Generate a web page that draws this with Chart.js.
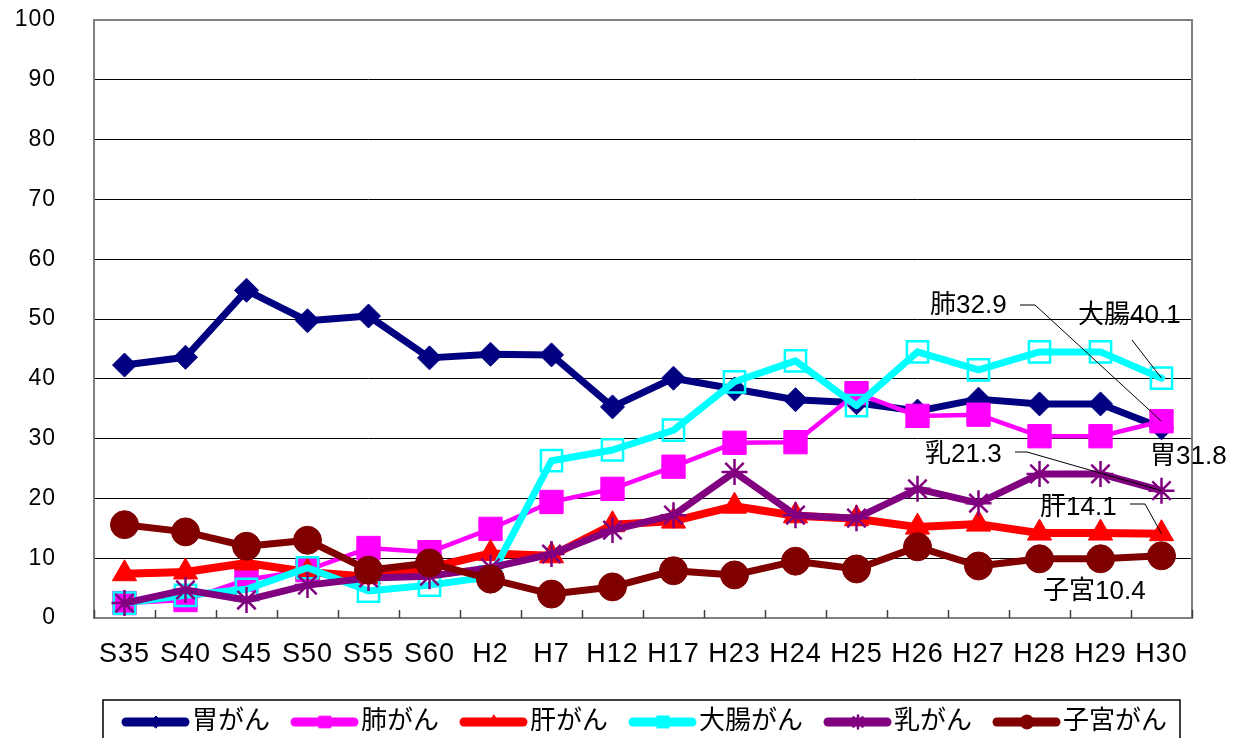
<!DOCTYPE html>
<html>
<head>
<meta charset="utf-8">
<script src="https://cdn.jsdelivr.net/npm/chart.js@4/dist/chart.umd.min.js"></script>
<style>
  html, body { margin: 0; padding: 0; background: #fff; }
</style>
</head>
<body>
<canvas id="chart" width="1239" height="738"></canvas>
<script>
const categories = ['S35','S40','S45','S50','S55','S60','H2','H7','H12','H17','H23','H24','H25','H26','H27','H28','H29','H30'];

const stomach = [42.3, 43.6, 54.8, 49.7, 50.5, 43.5, 44.1, 44.0, 35.3, 40.1, 38.3, 36.5, 36.0, 34.6, 36.6, 35.8, 35.8, 31.8];
const lung    = [2.5, 3.0, 6.4, 8.0, 11.7, 11.0, 14.9, 19.4, 21.6, 25.3, 29.3, 29.4, 37.6, 33.8, 34.0, 30.4, 30.4, 32.9];
const liver   = [7.4, 7.7, 9.2, 7.7, 6.9, 8.4, 10.8, 10.4, 15.6, 16.2, 18.7, 17.1, 16.6, 15.2, 15.7, 14.2, 14.2, 14.1];
const colon   = [2.5, 3.8, 4.8, 8.4, 4.5, 5.5, 6.9, 26.3, 28.1, 31.4, 39.5, 43.0, 35.5, 44.5, 41.5, 44.5, 44.5, 40.1];
const breast  = [2.5, 4.7, 3.0, 5.5, 6.7, 7.0, 8.4, 10.7, 14.7, 17.2, 24.4, 17.2, 16.7, 21.6, 19.2, 24.1, 24.1, 21.3];
const uterus  = [15.6, 14.4, 12.0, 13.0, 8.0, 9.2, 6.5, 4.0, 5.2, 7.9, 7.2, 9.5, 8.2, 11.9, 8.7, 9.9, 9.9, 10.4];

const seriesNames = ['胃がん', '肺がん', '肝がん', '大腸がん', '乳がん', '子宮がん'];
const endNames = ['胃', '肺', '肝', '大腸', '乳', '子宮'];
const yTicks = [0, 10, 20, 30, 40, 50, 60, 70, 80, 90, 100];

const NUM_FONT = '"Liberation Sans", Arial, sans-serif';
const JP_FONT = '"Liberation Sans", "Noto Sans CJK JP", sans-serif';

// wanted plot area (px)
const PLOT = { top: 20, bottom: 618, left: 94, right: 1192 };

function makeSet(i, data, color, style, radius, width, fill, bw) {
    return {
        label: seriesNames[i],
        data: data,
        borderColor: color,
        backgroundColor: fill,
        borderWidth: width,
        borderJoinStyle: 'round',
        borderCapStyle: 'round',
        pointStyle: style,
        pointRadius: radius,
        pointBackgroundColor: fill,
        pointBorderColor: color,
        pointBorderWidth: bw,
        tension: 0,
        clip: false,
        order: -i
    };
}

const datasets = [
    makeSet(0, stomach, '#000080', 'rectRot', 12, 7, '#000080', 1),
    makeSet(1, lung, '#FF00FF', 'rect', 16.5, 4.5, '#FF00FF', 1),
    makeSet(2, liver, '#FF0000', 'triangle', 14, 8, '#FF0000', 1),
    makeSet(3, colon, '#00FFFF', 'rect', 15, 7, 'rgba(0,0,0,0)', 2.5),
    makeSet(4, breast, '#800080', 'star', 13, 7, '#800080', 2.5),
    makeSet(5, uterus, '#800000', 'circle', 14, 7, '#800000', 1)
];

// labels at the right end, with leader lines to the last point
const endLabelLayout = [
    { set: 0, x: 1150, y: 457, lead: null },
    { set: 1, x: 930, y: 306, lead: [[1020, 305], [1035, 305]] },
    { set: 2, x: 1040, y: 508, lead: [[1130, 504], [1145, 504]] },
    { set: 3, x: 1078, y: 316, lead: [[1132, 340]] },
    { set: 4, x: 925, y: 455, lead: [[1015, 452], [1027, 452]] },
    { set: 5, x: 1043, y: 592, lead: null }
];

const extras = {
    id: 'extras',
    beforeDraw(chart) {
        chart.ctx.letterSpacing = '1px';
    },
    beforeDatasetsDraw(chart) {
        const { ctx, chartArea: a, scales: { x } } = chart;
        ctx.save();
        ctx.strokeStyle = '#808080';
        ctx.lineWidth = 2;
        ctx.strokeRect(a.left, a.top, a.right - a.left, a.bottom - a.top);
        // inner tick marks between categories
        ctx.strokeStyle = '#404040';
        ctx.lineWidth = 1.5;
        for (let i = 0; i <= categories.length; i++) {
            const px = Math.round(x.getPixelForValue(i - 0.5)) + 0.5;
            ctx.beginPath();
            ctx.moveTo(px, a.bottom);
            ctx.lineTo(px, a.bottom - 8);
            ctx.stroke();
        }
        ctx.restore();
    },
    afterDatasetsDraw(chart) {
        const ctx = chart.ctx;
        ctx.save();
        ctx.letterSpacing = '0px';
        ctx.font = '26px ' + JP_FONT;
        ctx.fillStyle = '#000';
        ctx.textAlign = 'left';
        ctx.textBaseline = 'middle';
        endLabelLayout.forEach(l => {
            const data = chart.data.datasets[l.set].data;
            const last = data[data.length - 1];
            ctx.fillText(endNames[l.set] + last.toFixed(1), l.x, l.y);
            if (l.lead) {
                const pt = chart.getDatasetMeta(l.set).data[data.length - 1];
                ctx.strokeStyle = '#000';
                ctx.lineWidth = 1;
                ctx.beginPath();
                ctx.moveTo(l.lead[0][0], l.lead[0][1]);
                for (let k = 1; k < l.lead.length; k++) ctx.lineTo(l.lead[k][0], l.lead[k][1]);
                ctx.lineTo(pt.x, pt.y);
                ctx.stroke();
            }
        });

        // legend box
        const top = 700, left = 103, right = 1180;
        ctx.strokeStyle = '#000';
        ctx.lineWidth = 1.5;
        ctx.beginPath();
        ctx.moveTo(left, 738);
        ctx.lineTo(left, top);
        ctx.lineTo(right, top);
        ctx.lineTo(right, 738);
        ctx.stroke();

        let lx = 123;
        const ly = 722;
        ctx.font = '26px ' + JP_FONT;
        chart.data.datasets.forEach(ds => {
            ctx.strokeStyle = ds.borderColor;
            ctx.lineWidth = 9;
            ctx.lineCap = 'round';
            ctx.beginPath();
            ctx.moveTo(lx + 3, ly);
            ctx.lineTo(lx + 62, ly);
            ctx.stroke();
            ctx.fillStyle = ds.pointBackgroundColor;
            ctx.strokeStyle = ds.pointBorderColor;
            ctx.lineWidth = ds.pointBorderWidth;
            Chart.helpers.drawPoint(ctx, {
                pointStyle: ds.pointStyle,
                radius: ds.pointRadius * 0.5,
                rotation: 0,
                borderWidth: ds.pointBorderWidth
            }, lx + 33, ly);
            ctx.fillStyle = '#000';
            ctx.fillText(ds.label, lx + 69, ly);
            lx += 69 + ctx.measureText(ds.label).width + 22;
        });
        ctx.restore();
    }
};

const chart = new Chart(document.getElementById('chart'), {
    type: 'line',
    data: { labels: categories, datasets: datasets },
    options: {
        responsive: false,
        animation: false,
        layout: { autoPadding: false, padding: { top: PLOT.top, right: 1239 - PLOT.right, left: 0, bottom: 0 } },
        plugins: { legend: { display: false }, tooltip: { enabled: false } },
        scales: {
            x: {
                offset: true,
                grid: { display: false, drawTicks: false },
                border: { display: false },
                ticks: { color: '#000', font: { family: NUM_FONT, size: 27 }, padding: 20, autoSkip: false, maxRotation: 0 },
                afterFit(scale) {
                    scale.height = 738 - PLOT.bottom;
                    scale.paddingTop = 0;
                    scale.paddingBottom = 0;
                }
            },
            y: {
                min: 0,
                max: 100,
                afterBuildTicks(scale) { scale.ticks = yTicks.map(v => ({ value: v })); },
                grid: { color: '#000', lineWidth: 1, drawTicks: false },
                border: { display: false },
                ticks: { color: '#000', font: { family: NUM_FONT, size: 23 }, padding: 38 },
                afterFit(scale) {
                    scale.width = PLOT.left;
                    scale.paddingTop = 0;
                    scale.paddingBottom = 0;
                }
            }
        }
    },
    plugins: [extras]
});

// nudge the layout so the plot area sits where the reference has it
for (let k = 0; k < 3; k++) {
    const d = chart.chartArea.top - PLOT.top;
    if (Math.abs(d) < 0.5) break;
    chart.options.layout.padding.top -= d;
    chart.update();
}
</script>
</body>
</html>
